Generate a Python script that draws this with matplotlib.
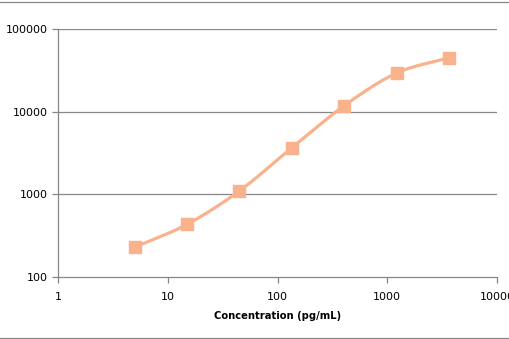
import numpy as np
import matplotlib
matplotlib.use("Agg")
import matplotlib.pyplot as plt
from matplotlib.lines import Line2D
from matplotlib.ticker import FixedLocator, FuncFormatter, NullLocator

# standard curve values
concentration = [5, 15, 45, 135, 405, 1215, 3645]
signal = [229, 434, 1100, 3660, 11800, 29300, 44900]

x_ticks = [1, 10, 100, 1000, 10000]
y_ticks = [100, 1000, 10000, 100000]

line_color = "#F9B28C"
grid_color = "#878787"


def smooth_curve(xs, ys, n=30):
    # Catmull-Rom spline in log space, like Excel's smoothed line
    px = np.log10(xs)
    py = np.log10(ys)
    px = np.concatenate([[2 * px[0] - px[1]], px, [2 * px[-1] - px[-2]]])
    py = np.concatenate([[2 * py[0] - py[1]], py, [2 * py[-1] - py[-2]]])
    out_x, out_y = [], []
    t = np.linspace(0, 1, n)
    for i in range(1, len(px) - 2):
        for p, out in ((px, out_x), (py, out_y)):
            p0, p1, p2, p3 = p[i - 1], p[i], p[i + 1], p[i + 2]
            seg = 0.5 * ((2 * p1) + (-p0 + p2) * t
                         + (2 * p0 - 5 * p1 + 4 * p2 - p3) * t ** 2
                         + (-p0 + 3 * p1 - 3 * p2 + p3) * t ** 3)
            out.extend(seg)
    return 10 ** np.array(out_x), 10 ** np.array(out_y)


fig = plt.figure(figsize=(5.1, 3.39), dpi=100)
ax = fig.add_axes([58 / 510, 1 - 277 / 339, (497 - 58) / 510, (277 - 29) / 339])

ax.set_xscale("log")
ax.set_yscale("log")
ax.set_xlim(1, 10000)
ax.set_ylim(100, 100000)

for y in y_ticks[1:]:
    ax.axhline(y, color=grid_color, lw=0.9, zorder=1)

sx, sy = smooth_curve(concentration, signal)
ax.plot(sx, sy, color=line_color, lw=2.3, zorder=2, solid_capstyle="round")
ax.plot(concentration, signal, ls="none", marker="s", ms=9,
        color=line_color, mec=line_color, zorder=3)

ax.xaxis.set_major_locator(FixedLocator(x_ticks))
ax.yaxis.set_major_locator(FixedLocator(y_ticks))
ax.xaxis.set_minor_locator(NullLocator())
ax.yaxis.set_minor_locator(NullLocator())
fmt = FuncFormatter(lambda v, pos: f"{int(round(v))}")
ax.xaxis.set_major_formatter(fmt)
ax.yaxis.set_major_formatter(fmt)

for side in ("top", "right"):
    ax.spines[side].set_visible(False)
for side in ("left", "bottom"):
    ax.spines[side].set_color(grid_color)
    ax.spines[side].set_linewidth(0.9)

ax.tick_params(axis="both", direction="out", length=4, width=0.9,
               color=grid_color, labelsize=8, labelcolor="black")
ax.tick_params(axis="x", pad=7)
ax.tick_params(axis="y", pad=3)

ax.set_xlabel("Concentration (pg/mL)", fontsize=7.2, fontweight="bold", labelpad=6)

# chart area border
fig.add_artist(Line2D([0, 1], [1 - 1.5 / 339, 1 - 1.5 / 339], color=grid_color, lw=0.9))
fig.add_artist(Line2D([0, 1], [1.5 / 339, 1.5 / 339], color=grid_color, lw=0.9))

fig.savefig("out.png", dpi=100)
